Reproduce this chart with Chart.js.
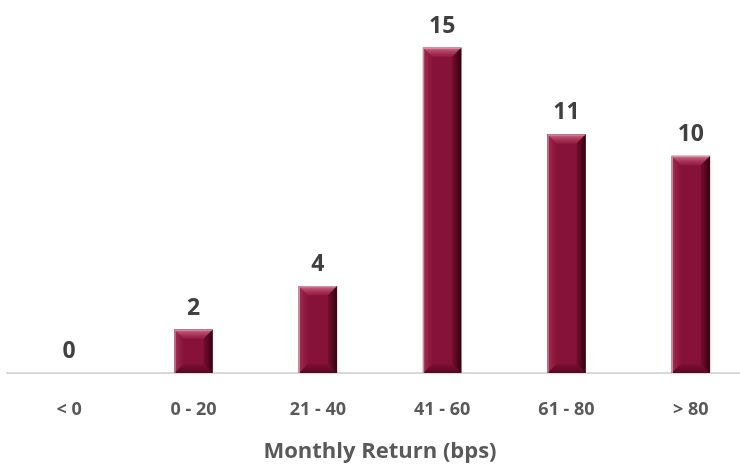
<!DOCTYPE html>
<html>
<head>
<meta charset="utf-8">
<script src="https://cdn.jsdelivr.net/npm/chart.js@4/dist/chart.umd.min.js"></script>
<style>
	html, body { margin: 0; padding: 0; background: #fff; overflow: hidden; }
	#wrap { width: 756px; height: 465px; }
</style>
</head>
<body>
<div id="wrap"><canvas id="returnsChart"></canvas></div>
<script>
const categories = ['< 0', '0 - 20', '21 - 40', '41 - 60', '61 - 80', '> 80'];
const counts = [0, 2, 4, 15, 11, 10];
const axisTitle = 'Monthly Return (bps)';

const FONT = '"Open Sans", "Noto Sans", sans-serif';

// bevel look + value labels on top of each bar
const bevelPlugin = {
	id: 'bevel',
	afterDatasetsDraw: function(chart) {
		const ctx = chart.ctx;
		const meta = chart.getDatasetMeta(0);
		meta.data.forEach(function(bar, i) {
			const w = bar.width;
			const left = bar.x - w / 2;
			const right = bar.x + w / 2;
			const top = bar.y;
			const bottom = bar.base;
			const h = bottom - top;
			const b = Math.min(9, h / 2, w / 2);
			ctx.save();
			if (h > 1) {
				// top bevel
				let g = ctx.createLinearGradient(0, top, 0, top + b);
				g.addColorStop(0, 'rgba(230,140,165,0.75)');
				g.addColorStop(1, 'rgba(190,60,95,0.25)');
				ctx.fillStyle = g;
				ctx.beginPath();
				ctx.moveTo(left, top);
				ctx.lineTo(right, top);
				ctx.lineTo(right - b, top + b);
				ctx.lineTo(left + b, top + b);
				ctx.closePath();
				ctx.fill();
				// right bevel
				g = ctx.createLinearGradient(right - b, 0, right, 0);
				g.addColorStop(0, 'rgba(60,0,15,0.25)');
				g.addColorStop(1, 'rgba(30,0,8,0.85)');
				ctx.fillStyle = g;
				ctx.beginPath();
				ctx.moveTo(right, top);
				ctx.lineTo(right, bottom);
				ctx.lineTo(right - b, bottom - b);
				ctx.lineTo(right - b, top + b);
				ctx.closePath();
				ctx.fill();
				// left bevel
				g = ctx.createLinearGradient(left, 0, left + b, 0);
				g.addColorStop(0, 'rgba(200,90,120,0.45)');
				g.addColorStop(1, 'rgba(160,40,75,0.1)');
				ctx.fillStyle = g;
				ctx.beginPath();
				ctx.moveTo(left, top);
				ctx.lineTo(left + b, top + b);
				ctx.lineTo(left + b, bottom - b);
				ctx.lineTo(left, bottom);
				ctx.closePath();
				ctx.fill();
				// bottom bevel
				g = ctx.createLinearGradient(0, bottom - b, 0, bottom);
				g.addColorStop(0, 'rgba(70,0,20,0.15)');
				g.addColorStop(1, 'rgba(50,0,15,0.6)');
				ctx.fillStyle = g;
				ctx.beginPath();
				ctx.moveTo(left, bottom);
				ctx.lineTo(left + b, bottom - b);
				ctx.lineTo(right - b, bottom - b);
				ctx.lineTo(right, bottom);
				ctx.closePath();
				ctx.fill();
				ctx.strokeStyle = 'rgba(215,170,180,0.9)';
				ctx.lineWidth = 1;
				ctx.beginPath();
				ctx.moveTo(left + 0.5, bottom);
				ctx.lineTo(left + 0.5, top + 0.5);
				ctx.lineTo(right - 0.5, top + 0.5);
				ctx.stroke();
			}
			ctx.fillStyle = '#404040';
			ctx.font = 'bold 23px ' + FONT;
			ctx.textAlign = 'center';
			ctx.textBaseline = 'alphabetic';
			ctx.fillText(String(counts[i]), bar.x, top - 15);
			ctx.restore();
		});
	}
};

const ctx = document.getElementById('returnsChart').getContext('2d');
const chart = new Chart(ctx, {
	type: 'bar',
	data: {
		labels: categories,
		datasets: [
			{
				data: counts,
				backgroundColor: function(c) { return c.raw === 0 ? 'rgba(0,0,0,0)' : '#86123a'; },
				borderWidth: 0,
				barThickness: 38
			}
		]
	},
	options: {
		responsive: true,
		maintainAspectRatio: false,
		animation: false,
		layout: { padding: { left: 7, right: 3, top: 0, bottom: 0 } },
		plugins: {
			legend: { display: false },
			tooltip: { enabled: false }
		},
		scales: {
			x: {
				grid: { display: false, drawTicks: false },
				border: { display: true, color: '#d9d9d9', width: 2 },
				ticks: {
					color: '#595959',
					padding: 26,
					font: { family: FONT, size: 18, weight: 'bold' }
				},
				title: {
					display: true,
					text: axisTitle,
					color: '#595959',
					padding: { top: -8, bottom: 0 },
					font: { family: FONT, size: 22, weight: 'bold' }
				}
			},
			y: {
				display: false,
				min: 0,
				max: 17.2
			}
		}
	},
	plugins: [bevelPlugin]
});
</script>
</body>
</html>
